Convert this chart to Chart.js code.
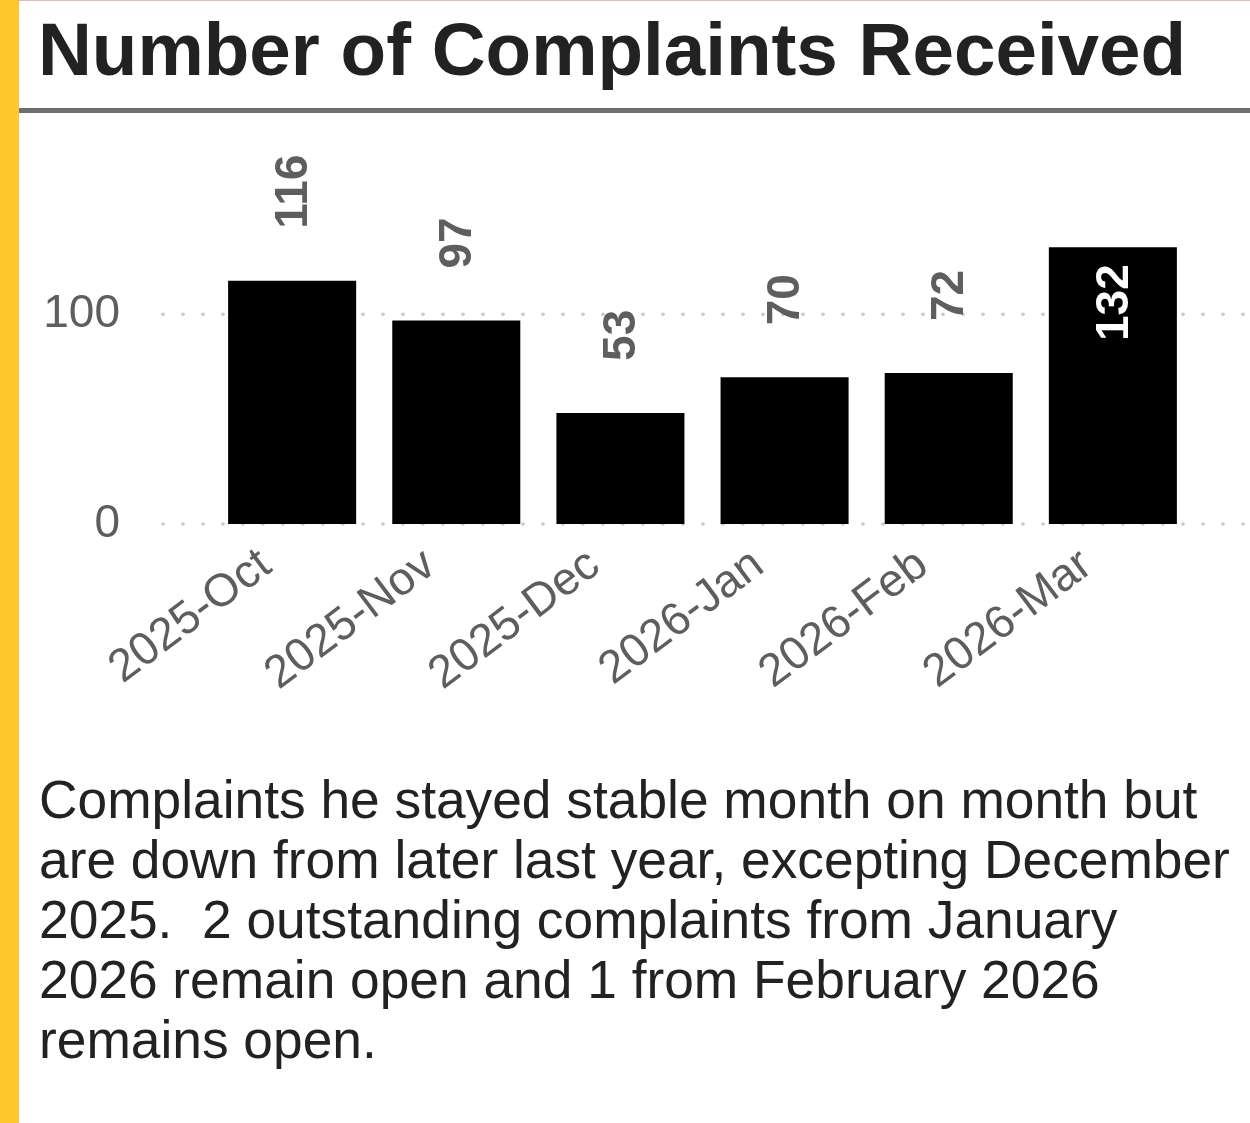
<!DOCTYPE html>
<html>
<head>
<meta charset="utf-8">
<script src="https://cdn.jsdelivr.net/npm/chart.js@4"></script>
<style>
  html, body { margin: 0; padding: 0; background: #fff; }
  body { width: 1250px; height: 1123px; position: relative; overflow: hidden; font-family: 'Liberation Sans', Arial, sans-serif; }
  #stripe { position: absolute; left: 0; top: 0; width: 19px; height: 1123px; background: #ffc72c; }
  #topline { position: absolute; left: 19px; top: 0; width: 1231px; height: 1px; background: #e8b8b0; }
  #title { position: absolute; left: 38px; top: 12px; margin: 0; font-size: 74.6px; line-height: 74px; font-weight: bold; color: #222; white-space: nowrap; }
  #rule { position: absolute; left: 19px; top: 108px; width: 1231px; height: 5px; background: #6e6e6e; }
  #box { position: absolute; left: 0; top: 115px; width: 1250px; height: 620px; }
  #note { position: absolute; left: 39px; top: 770px; margin: 0; font-size: 53.3px; line-height: 60px; color: #222; white-space: nowrap; }
</style>
</head>
<body>
<div id="stripe"></div>
<div id="topline"></div>
<h1 id="title">Number of Complaints Received</h1>
<div id="rule"></div>
<div id="box"><canvas id="chart"></canvas></div>
<p id="note">Complaints he stayed stable month on month but<br>are down from later last year, excepting December<br>2025.&nbsp; 2 outstanding complaints from January<br>2026 remain open and 1 from February 2026<br>remains open.</p>

<script>
// --- data ---
const categories = ['2025-Oct', '2025-Nov', '2025-Dec', '2026-Jan', '2026-Feb', '2026-Mar'];
const complaints = [116, 97, 53, 70, 72, 132];
const yTicks = [0, 100];

const FONT = "'Liberation Sans', Arial, sans-serif";
const insideFrom = 120; // labels of taller bars go inside the bar

// dotted grid lines like the original
const dotGrid = {
  id: 'dotGrid',
  beforeDatasetsDraw(chart) {
    const { ctx, chartArea, scales } = chart;
    ctx.save();
    ctx.fillStyle = '#c8c8c8';
    yTicks.forEach(t => {
      const y = scales.y.getPixelForValue(t);
      for (let x = chartArea.left + 3; x < chartArea.right; x += 20) {
        ctx.beginPath();
        ctx.arc(x, y, 1.8, 0, Math.PI * 2);
        ctx.fill();
      }
    });
    ctx.restore();
  }
};

// vertical value labels
const valueLabels = {
  id: 'valueLabels',
  afterDatasetsDraw(chart) {
    const { ctx } = chart;
    const meta = chart.getDatasetMeta(0);
    ctx.save();
    ctx.font = 'bold 46px ' + FONT;
    ctx.textBaseline = 'middle';
    meta.data.forEach((bar, i) => {
      const v = complaints[i];
      ctx.save();
      if (v >= insideFrom) {
        ctx.translate(bar.x, bar.y + 17);
        ctx.rotate(-Math.PI / 2);
        ctx.textAlign = 'right';
        ctx.fillStyle = '#ffffff';
      } else {
        ctx.translate(bar.x, bar.y - 52);
        ctx.rotate(-Math.PI / 2);
        ctx.textAlign = 'left';
        ctx.fillStyle = '#5e5e5e';
      }
      ctx.fillText(String(v), 0, 2);
      ctx.restore();
    });
    ctx.restore();
  }
};

new Chart(document.getElementById('chart'), {
  type: 'bar',
  data: {
    datasets: [{
      data: complaints.map((v, i) => ({ x: i, y: v })),
      backgroundColor: '#000000',
      borderWidth: 0,
      barPercentage: 0.78,
      categoryPercentage: 1
    }]
  },
  options: {
    responsive: true,
    maintainAspectRatio: false,
    animation: false,
    layout: { padding: { top: 94.5, right: 5, left: 0, bottom: 0 } },
    plugins: { legend: { display: false }, tooltip: { enabled: false } },
    scales: {
      x: {
        type: 'linear',
        offset: false,
        min: -0.805,
        max: categories.length - 1 + 0.805,
        grid: { display: false, offset: false },
        border: { display: false },
        afterBuildTicks: axis => { axis.ticks = categories.map((c, i) => ({ value: i })); },
        afterFit: axis => { axis.height = 211; },
        ticks: {
          autoSkip: false,
          minRotation: 37,
          maxRotation: 37,
          padding: 6,
          labelOffset: -26,
          color: '#5e5e5e',
          font: { family: FONT, size: 46 },
          callback: v => categories[v]
        }
      },
      y: {
        min: 0,
        max: 150,
        grid: { display: false, drawTicks: false },
        border: { display: false },
        afterBuildTicks: axis => { axis.ticks = yTicks.map(t => ({ value: t })); },
        afterFit: axis => { axis.width = 160; },
        ticks: {
          padding: 40,
          color: '#5e5e5e',
          font: { family: FONT, size: 46 }
        }
      }
    }
  },
  plugins: [dotGrid, valueLabels]
});
</script>
</body>
</html>
